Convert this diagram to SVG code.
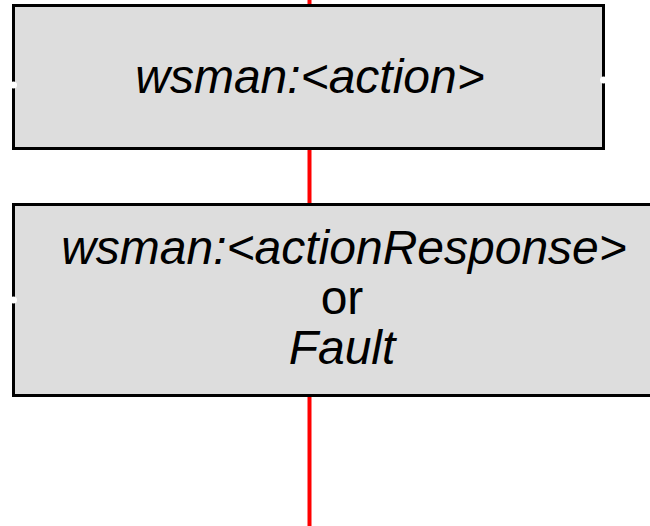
<svg xmlns="http://www.w3.org/2000/svg" width="650" height="526" viewBox="0 0 650 526">
<style>
.box{fill:#dddddd;stroke:#000;stroke-width:3}
.t{font-family:"Liberation Sans",Arial,sans-serif;font-size:48px;fill:#000;text-anchor:middle}
.i{font-style:italic}
.dot{fill:#fff}
</style>
<g id="connectors">
<line x1="309.5" y1="0" x2="309.5" y2="526" stroke="#ff0000" stroke-width="4"/>
</g>
<g id="action">
<rect class="box" x="13.5" y="5.5" width="590" height="143"/>
<circle class="dot" cx="13.5" cy="85" r="3.5"/>
<circle class="dot" cx="603.5" cy="80" r="3.5"/>
<text class="t i" x="310" y="93">wsman:&lt;action&gt;</text>
</g>
<g id="response">
<rect class="box" x="13.5" y="204.5" width="660" height="191"/>
<circle class="dot" cx="13.5" cy="300" r="3.5"/>
<text class="t i" x="344" y="264">wsman:&lt;actionResponse&gt;</text>
<text class="t" x="342" y="314">or</text>
<text class="t i" x="342" y="364">Fault</text>
</g>
</svg>
